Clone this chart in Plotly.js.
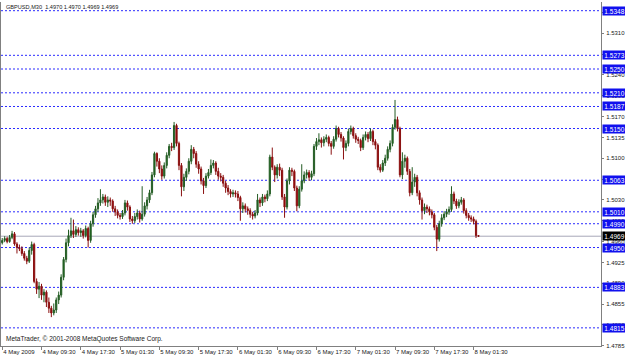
<!DOCTYPE html>
<html>
<head>
<meta charset="utf-8">
<script src="https://cdn.plot.ly/plotly-3.0.1.min.js"></script>
<style>
html,body{margin:0;padding:0;background:#fff;}
#chart{width:625px;height:361px;}
</style>
</head>
<body>
<div id="chart"></div>
<script>
// GBPUSD M30 bars, 4 May 01:30 -> 8 May 02:30 (2009)
const openP = [1.4958,1.4962,1.4965,1.4960,1.4967,1.4973,1.4956,1.4950,1.4948,1.4940,
1.4932,1.4927,1.4945,1.4955,1.4893,1.4880,1.4885,1.4870,1.4875,1.4858,
1.4848,1.4840,1.4845,1.4862,1.4870,1.4900,1.4930,1.4958,1.4970,1.4978,
1.4972,1.4980,1.4975,1.4978,1.4970,1.4982,1.4962,1.4990,1.5005,1.5015,
1.5025,1.5030,1.5035,1.5026,1.5030,1.5028,1.5015,1.5010,1.5004,1.5002,
1.5008,1.5025,1.5018,1.4998,1.4995,1.5002,1.5008,1.4998,1.5006,1.5020,
1.5030,1.5042,1.5072,1.5108,1.5095,1.5082,1.5070,1.5088,1.5105,1.5120,
1.5118,1.5155,1.5125,1.5088,1.5052,1.5068,1.5078,1.5095,1.5115,1.5108,
1.5090,1.5082,1.5062,1.5054,1.5070,1.5076,1.5088,1.5092,1.5078,1.5070,
1.5068,1.5058,1.5050,1.5044,1.5040,1.5042,1.5040,1.5034,1.5015,1.5020,
1.5015,1.5012,1.5006,1.5003,1.5008,1.5030,1.5025,1.5035,1.5032,1.5040,
1.5102,1.5085,1.5072,1.5085,1.5080,1.5035,1.5018,1.5062,1.5080,1.5078,
1.5050,1.5020,1.5048,1.5062,1.5072,1.5076,1.5068,1.5074,1.5120,1.5128,
1.5131,1.5126,1.5132,1.5135,1.5125,1.5120,1.5132,1.5150,1.5140,1.5134,
1.5118,1.5125,1.5145,1.5150,1.5138,1.5132,1.5130,1.5118,1.5135,1.5140,
1.5133,1.5145,1.5128,1.5122,1.5085,1.5080,1.5092,1.5100,1.5115,1.5125,
1.5152,1.5165,1.5150,1.5072,1.5095,1.5100,1.5078,1.5042,1.5060,1.5068,
1.5042,1.5030,1.5012,1.5018,1.5015,1.5010,1.5005,1.4984,1.4964,1.4990,
1.5000,1.5006,1.5010,1.5014,1.5040,1.5028,1.5020,1.5026,1.5030,1.5012,
1.5004,1.5000,1.4998,1.4994,1.4970];
const highP = [1.4966,1.4969,1.4968,1.4971,1.4978,1.4976,1.4959,1.4955,1.4952,1.4944,
1.4936,1.4950,1.4960,1.4958,1.4898,1.4892,1.4889,1.4880,1.4878,1.4866,
1.4852,1.4856,1.4866,1.4876,1.4905,1.4934,1.4965,1.4980,1.5000,1.4997,
1.4986,1.4984,1.4983,1.4981,1.4987,1.4985,1.4995,1.5010,1.5020,1.5033,
1.5048,1.5040,1.5039,1.5036,1.5034,1.5031,1.5020,1.5014,1.5008,1.5013,
1.5030,1.5029,1.5021,1.5003,1.5008,1.5014,1.5012,1.5053,1.5026,1.5035,
1.5047,1.5077,1.5111,1.5110,1.5100,1.5088,1.5093,1.5110,1.5124,1.5126,
1.5161,1.5158,1.5128,1.5092,1.5074,1.5083,1.5100,1.5122,1.5119,1.5112,
1.5095,1.5086,1.5067,1.5075,1.5082,1.5098,1.5097,1.5095,1.5084,1.5075,
1.5072,1.5062,1.5055,1.5048,1.5047,1.5046,1.5045,1.5037,1.5026,1.5024,
1.5019,1.5016,1.5010,1.5013,1.5040,1.5034,1.5040,1.5039,1.5046,1.5106,
1.5118,1.5088,1.5090,1.5091,1.5084,1.5040,1.5066,1.5085,1.5084,1.5081,
1.5054,1.5053,1.5090,1.5078,1.5081,1.5080,1.5079,1.5124,1.5134,1.5142,
1.5135,1.5137,1.5140,1.5138,1.5129,1.5137,1.5155,1.5153,1.5144,1.5137,
1.5130,1.5150,1.5155,1.5153,1.5142,1.5136,1.5133,1.5140,1.5145,1.5144,
1.5150,1.5148,1.5132,1.5125,1.5090,1.5097,1.5106,1.5120,1.5130,1.5157,
1.5198,1.5170,1.5153,1.5110,1.5106,1.5103,1.5082,1.5085,1.5074,1.5072,
1.5046,1.5034,1.5024,1.5022,1.5019,1.5014,1.5008,1.4988,1.4995,1.5006,
1.5011,1.5015,1.5019,1.5053,1.5044,1.5032,1.5031,1.5035,1.5033,1.5016,
1.5008,1.5004,1.5002,1.4997,1.4970];
const lowP = [1.4955,1.4959,1.4957,1.4958,1.4964,1.4953,1.4940,1.4944,1.4936,1.4928,
1.4922,1.4924,1.4938,1.4890,1.4872,1.4865,1.4862,1.4858,1.4850,1.4840,
1.4833,1.4836,1.4840,1.4855,1.4866,1.4895,1.4925,1.4952,1.4966,1.4966,
1.4968,1.4970,1.4968,1.4965,1.4967,1.4950,1.4958,1.4985,1.5000,1.5010,
1.5020,1.5024,1.5020,1.5018,1.5020,1.5010,1.5003,1.4999,1.4997,1.4998,
1.5004,1.5012,1.4993,1.4990,1.4991,1.4997,1.4992,1.4995,1.5002,1.5014,
1.5025,1.5038,1.5068,1.5086,1.5075,1.5064,1.5066,1.5083,1.5100,1.5112,
1.5114,1.5120,1.5080,1.5036,1.5045,1.5062,1.5073,1.5090,1.5100,1.5084,
1.5074,1.5056,1.5040,1.5050,1.5066,1.5072,1.5083,1.5072,1.5064,1.5061,
1.5052,1.5042,1.5038,1.5034,1.5035,1.5034,1.5028,1.4995,1.5008,1.5009,
1.5005,1.5000,1.4997,1.4999,1.5004,1.5018,1.5020,1.5026,1.5028,1.5036,
1.5080,1.5060,1.5066,1.5070,1.5030,1.5000,1.5014,1.5056,1.5070,1.5045,
1.5011,1.5016,1.5044,1.5058,1.5066,1.5062,1.5063,1.5070,1.5114,1.5122,
1.5118,1.5120,1.5127,1.5120,1.5106,1.5116,1.5128,1.5135,1.5128,1.5098,
1.5112,1.5120,1.5140,1.5133,1.5126,1.5124,1.5112,1.5114,1.5130,1.5127,
1.5129,1.5122,1.5115,1.5080,1.5076,1.5077,1.5087,1.5096,1.5110,1.5120,
1.5148,1.5145,1.5068,1.5065,1.5084,1.5072,1.5036,1.5038,1.5052,1.5036,
1.5022,1.4997,1.5006,1.5008,1.5004,1.4999,1.4979,1.4944,1.4960,1.4985,
1.4996,1.5001,1.5005,1.5010,1.5023,1.5015,1.5016,1.5022,1.5007,1.4999,
1.4995,1.4993,1.4989,1.4966,1.4969];
const closeP = [1.4962,1.4965,1.4960,1.4967,1.4973,1.4956,1.4950,1.4948,1.4940,1.4932,
1.4927,1.4945,1.4955,1.4893,1.4880,1.4885,1.4870,1.4875,1.4858,1.4848,
1.4840,1.4845,1.4862,1.4870,1.4900,1.4930,1.4958,1.4970,1.4978,1.4972,
1.4980,1.4975,1.4978,1.4970,1.4982,1.4962,1.4990,1.5005,1.5015,1.5025,
1.5030,1.5035,1.5026,1.5030,1.5028,1.5015,1.5010,1.5004,1.5002,1.5008,
1.5025,1.5018,1.4998,1.4995,1.5002,1.5008,1.4998,1.5006,1.5020,1.5030,
1.5042,1.5072,1.5108,1.5095,1.5082,1.5070,1.5088,1.5105,1.5120,1.5118,
1.5155,1.5125,1.5088,1.5052,1.5068,1.5078,1.5095,1.5115,1.5108,1.5090,
1.5082,1.5062,1.5054,1.5070,1.5076,1.5088,1.5092,1.5078,1.5070,1.5068,
1.5058,1.5050,1.5044,1.5040,1.5042,1.5040,1.5034,1.5015,1.5020,1.5015,
1.5012,1.5006,1.5003,1.5008,1.5030,1.5025,1.5035,1.5032,1.5040,1.5102,
1.5085,1.5072,1.5085,1.5080,1.5035,1.5018,1.5062,1.5080,1.5078,1.5050,
1.5020,1.5048,1.5062,1.5072,1.5076,1.5068,1.5074,1.5120,1.5128,1.5131,
1.5126,1.5132,1.5135,1.5125,1.5120,1.5132,1.5150,1.5140,1.5134,1.5118,
1.5125,1.5145,1.5150,1.5138,1.5132,1.5130,1.5118,1.5135,1.5140,1.5133,
1.5145,1.5128,1.5122,1.5085,1.5080,1.5092,1.5100,1.5115,1.5125,1.5152,
1.5165,1.5150,1.5072,1.5095,1.5100,1.5078,1.5042,1.5060,1.5068,1.5042,
1.5030,1.5012,1.5018,1.5015,1.5010,1.5005,1.4984,1.4964,1.4990,1.5000,
1.5006,1.5010,1.5014,1.5040,1.5028,1.5020,1.5026,1.5030,1.5012,1.5004,
1.5000,1.4998,1.4994,1.4970,1.4969];

// time axis labels (bar index of each label, 16 bars = 8 hours)
const xTickIdx = [0,16,32,48,64,80,96,112,128,144,160,176,192];
const xTickText = ["4 May 2009","4 May 09:30","4 May 17:30","5 May 01:30","5 May 09:30","5 May 17:30",
  "6 May 01:30","6 May 09:30","6 May 17:30","7 May 01:30","7 May 09:30","7 May 17:30","8 May 01:30"];

// price scale ticks (labels hidden under the level boxes are left blank)
const yTickVals = [1.4785,1.4820,1.4855,1.4890,1.4925,1.4960,1.4995,1.5030,1.5065,1.5100,1.5135,1.5170,1.5205,1.5240,1.5275,1.5310,1.5345];
const yTickText = ["1.4785","1.4820","1.4855","1.4890","1.4925","1.4960","1.4995","1.5030","","1.5100","1.5135","1.5170","1.5205","1.5240","","1.5310",""];

// horizontal levels
const levels = [1.5348,1.5273,1.5250,1.5210,1.5187,1.5150,1.5063,1.5010,1.4990,1.4950,1.4883,1.4815];
const levelText = ["1.5348","1.5273","1.5250","1.5210","1.5187","1.5150","1.5063","1.5010","1.4990","1.4950","1.4883","1.4815"];
const lastPrice = 1.4969;
const lastText = "1.4969";
const headerText = "GBPUSD,M30  1.4970 1.4970 1.4969 1.4969";
const footerText = "MetaTrader, \u00a9 2001-2008 MetaQuotes Software Corp.";

const xIdx = closeP.map((_, i) => i);

const FONT = "Liberation Sans, Arial, sans-serif";

const shapes = levels.map(v => ({
  type: "line", xref: "paper", x0: 0, x1: 1, yref: "y", y0: v, y1: v, layer: "below",
  line: {color: "#2b2bff", width: 1, dash: "2px,2px"}
}));
shapes.push({type: "line", xref: "paper", x0: 0, x1: 1, yref: "y", y0: lastPrice, y1: lastPrice, layer: "below",
  line: {color: "#a8a8b8", width: 1}});

const annotations = levels.map((v, k) => ({
  xref: "paper", x: 1, xanchor: "left", xshift: 1, yref: "y", y: v, yanchor: "middle",
  text: levelText[k], showarrow: false, bgcolor: "#1010ee", borderpad: 0,
  width: 23, height: 8, align: "center",
  font: {family: FONT, size: 6.5, color: "#ffffff"}
}));
annotations.push({xref: "paper", x: 1, xanchor: "left", xshift: 1, yref: "y", y: lastPrice, yanchor: "middle",
  text: lastText, showarrow: false, bgcolor: "#000000", borderpad: 0,
  width: 23, height: 8, align: "center",
  font: {family: FONT, size: 6.5, color: "#ffffff"}});
annotations.push({xref: "paper", yref: "paper", x: 0, y: 1, xanchor: "left", yanchor: "top", xshift: 3, yshift: 0,
  text: headerText, showarrow: false, font: {family: FONT, size: 5.6, color: "#202020"}});
annotations.push({xref: "paper", yref: "paper", x: 0, y: 0, xanchor: "left", yanchor: "bottom", xshift: 3, yshift: 1,
  text: footerText, showarrow: false, font: {family: FONT, size: 6.5, color: "#202020"}});

const trace = {
  type: "candlestick",
  x: xIdx, open: openP, high: highP, low: lowP, close: closeP,
  increasing: {line: {color: "#245c24", width: 1}, fillcolor: "#1f6b1f"},
  decreasing: {line: {color: "#8a1010", width: 1}, fillcolor: "#9a0000"},
  whiskerwidth: 0,
  hoverinfo: "skip"
};

const layout = {
  width: 625, height: 361,
  margin: {l: 1, r: 24, t: 2, b: 15},
  paper_bgcolor: "#ffffff", plot_bgcolor: "#ffffff",
  showlegend: false,
  font: {family: FONT, size: 6, color: "#202020"},
  xaxis: {
    range: [-0.5, 243.9], rangeslider: {visible: false},
    tickmode: "array", tickvals: xTickIdx, ticktext: xTickText,
    ticklabelposition: "outside right", tickangle: 0,
    ticks: "outside", ticklen: 3, tickcolor: "#808080",
    showgrid: false, zeroline: false,
    showline: true, linecolor: "#808080", linewidth: 1,
    automargin: false,
    tickfont: {family: FONT, size: 6, color: "#202020"}
  },
  yaxis: {
    side: "right", range: [1.47845, 1.53626],
    tickmode: "array", tickvals: yTickVals, ticktext: yTickText,
    ticks: "outside", ticklen: 2, tickcolor: "#808080",
    ticklabelstandoff: 1,
    showgrid: false, zeroline: false,
    showline: true, mirror: true, linecolor: "#808080", linewidth: 1,
    automargin: false,
    tickfont: {family: FONT, size: 6, color: "#202020"}
  },
  shapes: shapes,
  annotations: annotations
};

Plotly.newPlot("chart", [trace], layout, {staticPlot: true, displayModeBar: false});
</script>
</body>
</html>
